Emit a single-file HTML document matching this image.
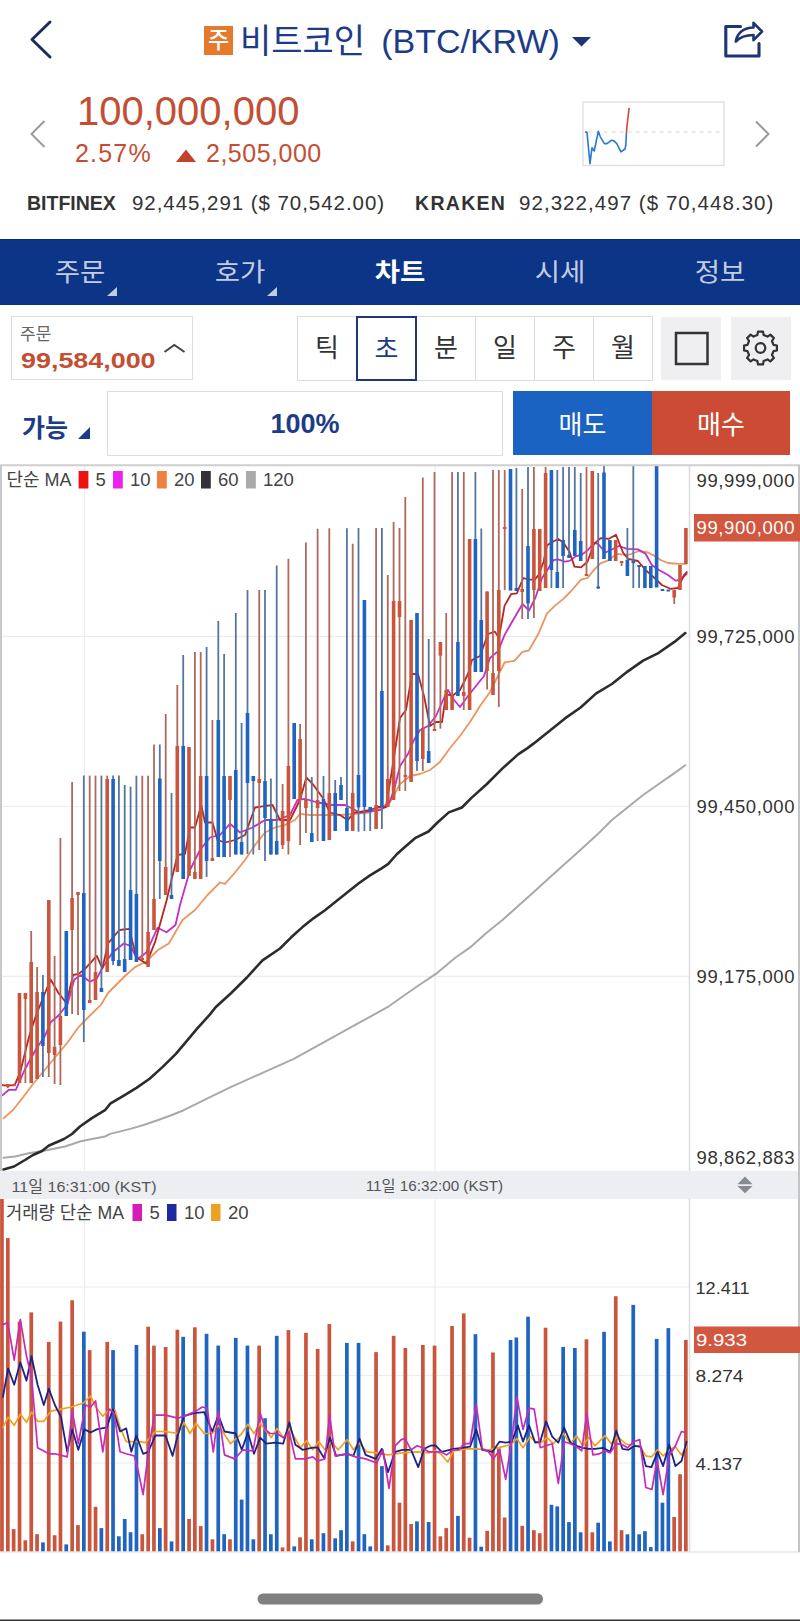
<!DOCTYPE html>
<html lang="ko"><head><meta charset="utf-8"><title>비트코인 (BTC/KRW)</title>
<style>
*{box-sizing:border-box;margin:0;padding:0}
html,body{width:800px;height:1621px;overflow:hidden;background:#fff}
body{position:relative;font-family:"Liberation Sans","Noto Sans CJK KR",sans-serif;color:#222}
.a{position:absolute;white-space:nowrap;line-height:1}
.kr{font-family:"Liberation Sans","Noto Sans CJK KR",sans-serif}
.nav{position:absolute;left:0;top:239px;width:800px;height:66px;background:#0c3588;border-top:1px solid #0a2a6a}
.tab{position:absolute;top:0;width:160px;height:66px;text-align:center;line-height:64px;font-size:25px;color:#c3cde2}
.tab.on{color:#fff;font-weight:bold}
.tab span{display:inline-block;transform:scaleX(1.1)}
.tri{position:absolute;width:0;height:0;border-left:10px solid transparent;border-bottom:9px solid #c3cde2}
.seg{position:absolute;top:316px;height:65px;width:60px;border:1px solid #dcdcdc;background:#fff;text-align:center;line-height:62px;font-size:26px;color:#333}
.ibtn{position:absolute;top:317px;width:60px;height:63px;background:#efeff1}
</style></head>
<body>
<!-- header -->
<svg class="a" style="left:0;top:0" width="800" height="240">
<polyline points="50,22 32,39.5 50,57" fill="none" stroke="#1c2c5c" stroke-width="3" stroke-linecap="round" stroke-linejoin="round"/>
<polygon points="572,37 591,37 581.5,46.5" fill="#1d3577"/>
<path d="M740.5,26.5 H725.8 V56 H759 V43.5" fill="none" stroke="#1d3577" stroke-width="3.1" stroke-linejoin="round" stroke-linecap="round"/>
<path d="M735.8,41.5 C737,33 744,27.5 753.5,27.5 L753.5,22.8 L762,31.5 L753.5,40.2 L753.5,35 C746,35 740,37 735.8,41.5 Z" fill="#fff" stroke="#1d3577" stroke-width="2.6" stroke-linejoin="round"/>
<polyline points="44.5,121 31.5,134 44.5,147" fill="none" stroke="#9a9a9a" stroke-width="2"/>
<polyline points="756,121.5 768.5,134 756,146.5" fill="none" stroke="#9a9a9a" stroke-width="2"/>
<polygon points="176,162 196,162 186,149.5" fill="#c0432e"/>
<rect x="583" y="102" width="141" height="63.5" fill="#fff" stroke="#dedede" stroke-width="1.3"/>
<line x1="588" y1="132" x2="720" y2="132" stroke="#e8c8c8" stroke-width="1.2" stroke-dasharray="3.5,4.5"/>
<polyline points="585,131.8 587,132.6 590,163.7 592,147.7 594.2,151 598.3,131.3 600.3,136.8 604.4,143.6 607,143.6 611.3,140.3 614,140.9 616.8,143.6 620.9,151.9 625,149 625.8,145 626.5,132" fill="none" stroke="#2a78d0" stroke-width="1.6" stroke-linejoin="round"/>
<polyline points="626.5,132 627,125.8 629.1,107.9" fill="none" stroke="#d24a3a" stroke-width="1.6"/>
</svg>
<div class="a" style="left:204px;top:26px;width:29px;height:29px;background:#e57a2c;color:#fff;font-size:23px;font-weight:500;text-align:center;line-height:28px">주</div>
<div class="a" id="title" style="left:240px;top:21px;font-size:34px;color:#1d3c87;line-height:40px">비트코인<span style="margin-left:16px">(BTC/KRW)</span></div>
<div class="a" id="price" style="left:77px;top:90px;font-size:40px;color:#c34e34;line-height:42px">100,000,000</div>
<div class="a" id="pct" style="left:75px;top:140px;font-size:25px;color:#c34e34;line-height:26px;letter-spacing:1.2px">2.57%</div>
<div class="a" id="chg" style="left:206px;top:140px;font-size:25px;color:#c34e34;line-height:26px;letter-spacing:0.5px">2,505,000</div>
<div class="a" style="left:27px;top:192px;font-size:19.5px;font-weight:bold;color:#333;line-height:22px">BITFINEX</div><div class="a" style="left:132px;top:192px;font-size:20.5px;color:#333;line-height:22px;letter-spacing:0.95px">92,445,291 ($ 70,542.00)</div>
<div class="a" style="left:415px;top:192px;font-size:19.5px;font-weight:bold;color:#333;line-height:22px;letter-spacing:1.3px">KRAKEN</div><div class="a" style="left:519px;top:192px;font-size:20.5px;color:#333;line-height:22px;letter-spacing:1.05px">92,322,497 ($ 70,448.30)</div>
<!-- nav -->
<div class="nav">
<div class="tab" style="left:0"><span>주문</span></div><div class="tri" style="left:107px;top:47px"></div>
<div class="tab" style="left:160px"><span>호가</span></div><div class="tri" style="left:267px;top:47px"></div>
<div class="tab on" style="left:320px"><span>차트</span></div>
<div class="tab" style="left:480px"><span>시세</span></div>
<div class="tab" style="left:640px"><span>정보</span></div>
</div>
<!-- controls -->
<div class="a" style="left:11px;top:316px;width:182px;height:64px;border:1.5px solid #dedede"></div>
<div class="a" style="left:20px;top:324.5px;font-size:17px;color:#666;line-height:20px">주문</div>
<div class="a" id="ord" style="left:21px;top:349px;font-size:22.5px;font-weight:bold;color:#c34e34;line-height:24px;transform-origin:0 0;transform:scaleX(1.195)">99,584,000</div>
<svg class="a" style="left:160px;top:338px" width="30" height="20"><polyline points="4.5,14 14.3,7 24.5,14" fill="none" stroke="#444" stroke-width="2"/></svg>
<div class="seg" style="left:297px">틱</div>
<div class="seg" style="left:356px"></div>
<div class="seg" style="left:416px">분</div>
<div class="seg" style="left:475px">일</div>
<div class="seg" style="left:534px">주</div>
<div class="seg" style="left:593px">월</div>
<div class="a" style="left:356px;top:316px;width:61px;height:65px;border:2px solid #21367a;color:#1d3c87;font-size:26px;text-align:center;line-height:62px">초</div>
<div class="ibtn" style="left:661px"></div>
<div class="ibtn" style="left:730.5px"></div>
<svg class="a" style="left:660px;top:316px" width="140" height="66">
<rect x="16" y="17" width="31.5" height="31" fill="none" stroke="#333" stroke-width="2.5"/>
<g transform="translate(100.5,32)" fill="none" stroke="#333" stroke-width="2.2" stroke-linejoin="round">
<path d="M-3.13,-13.03 L-2.47,-16.42 L2.47,-16.42 L3.13,-13.03 L7.00,-11.43 L9.86,-13.35 L13.35,-9.86 L11.43,-7.00 L13.03,-3.13 L16.42,-2.47 L16.42,2.47 L13.03,3.13 L11.43,7.00 L13.35,9.86 L9.86,13.35 L7.00,11.43 L3.13,13.03 L2.47,16.42 L-2.47,16.42 L-3.13,13.03 L-7.00,11.43 L-9.86,13.35 L-13.35,9.86 L-11.43,7.00 L-13.03,3.13 L-16.42,2.47 L-16.42,-2.47 L-13.03,-3.13 L-11.43,-7.00 L-13.35,-9.86 L-9.86,-13.35 L-7.00,-11.43 Z"/>
<circle r="4.8"/>
</g>
</svg>
<div class="a" style="left:22px;top:412.5px;font-size:25px;font-weight:bold;color:#1d3c87;line-height:30px">가능</div>
<div class="a" style="left:78px;top:427px;width:0;height:0;border-left:12px solid transparent;border-bottom:12px solid #1d3c87"></div>
<div class="a" style="left:107px;top:391px;width:396px;height:65px;border:1.5px solid #dedede;text-align:center;font-size:27px;font-weight:bold;color:#1d3c87;line-height:65px">100%</div>
<div class="a" style="left:513px;top:391px;width:139px;height:64px;background:#1a63c3;color:#fff;text-align:center;font-size:26px;line-height:68px">매도</div>
<div class="a" style="left:652px;top:391px;width:138px;height:64px;background:#cc4b35;color:#fff;text-align:center;font-size:26px;line-height:68px">매수</div>
<svg class="a" style="left:0;top:0" width="800" height="1621" viewBox="0 0 800 1621">
<defs><clipPath id="pc"><rect x="2" y="466" width="687" height="705"/></clipPath><clipPath id="vc"><rect x="0" y="1198" width="689" height="354"/></clipPath></defs>
<line x1="2" y1="636.3" x2="689" y2="636.3" stroke="#ececec" stroke-width="1.2"/>
<line x1="2" y1="806.5" x2="689" y2="806.5" stroke="#ececec" stroke-width="1.2"/>
<line x1="2" y1="976.3" x2="689" y2="976.3" stroke="#ececec" stroke-width="1.2"/>
<line x1="84.5" y1="466" x2="84.5" y2="1171" stroke="#ececec" stroke-width="1.2"/>
<line x1="84.5" y1="1198" x2="84.5" y2="1551" stroke="#ececec" stroke-width="1.2"/>
<line x1="435" y1="466" x2="435" y2="1171" stroke="#ececec" stroke-width="1.2"/>
<line x1="435" y1="1198" x2="435" y2="1551" stroke="#ececec" stroke-width="1.2"/>
<line x1="0" y1="1287" x2="689" y2="1287" stroke="#ececec" stroke-width="1.2"/>
<line x1="0" y1="1375.5" x2="689" y2="1375.5" stroke="#ececec" stroke-width="1.2"/>
<line x1="0" y1="1463" x2="689" y2="1463" stroke="#ececec" stroke-width="1.2"/>
<g clip-path="url(#pc)">
<polyline points="3.5,1157.8 15.0,1156.5 30.0,1153.0 43.0,1151.0 55.0,1148.5 65.0,1146.5 80.0,1141.5 91.9,1139.1 105.0,1136.5 110.2,1133.9 131.2,1128.6 144.4,1124.7 157.5,1120.2 170.6,1115.5 183.7,1110.2 196.9,1103.7 210.0,1097.1 231.2,1086.9 262.5,1072.8 293.8,1058.8 325.0,1041.6 356.2,1024.4 387.5,1007.2 403.0,996.2 418.8,985.3 435.2,974.4 455.6,957.5 471.2,946.6 486.9,932.5 502.5,920.0 518.1,905.9 533.8,891.9 549.4,877.8 565.0,863.8 580.6,849.7 596.2,835.6 611.9,820.0 627.5,807.5 643.1,795.0 658.8,784.0 674.4,773.1 685.3,765.3" fill="none" stroke="#a9a9a9" stroke-width="2" stroke-linejoin="round" stroke-linecap="round"/>
<polyline points="3.5,1169.5 14.0,1166.5 25.0,1160.0 33.0,1155.0 42.0,1151.0 49.0,1145.5 56.0,1142.5 64.0,1139.0 72.0,1134.0 80.0,1126.5 91.9,1118.1 105.0,1110.2 110.2,1103.7 123.4,1095.8 136.5,1087.9 149.6,1078.7 162.7,1066.9 175.9,1053.8 183.7,1044.6 196.9,1028.9 210.0,1014.4 215.6,1007.2 231.2,993.0 246.9,977.5 262.5,960.3 280.0,948.5 291.2,937.3 302.5,927.1 313.8,918.1 325.0,910.2 336.2,901.2 347.5,892.2 358.8,883.2 370.0,875.4 381.2,868.6 388.0,864.1 397.0,854.0 406.0,846.1 415.0,838.2 428.5,831.5 437.5,822.5 448.8,812.4 461.9,807.5 471.2,798.1 486.9,784.0 502.5,768.4 518.1,754.4 527.5,748.1 533.8,743.4 549.4,730.9 565.0,718.4 580.6,707.5 596.2,693.4 611.9,684.0 627.5,671.6 643.1,660.6 658.8,652.8 674.4,641.9 685.3,633.1" fill="none" stroke="#2c2c2c" stroke-width="2.6" stroke-linejoin="round" stroke-linecap="round"/>
<polyline points="3.5,1118.4 13.0,1110.0 21.9,1098.7 33.8,1083.0 45.0,1069.5 56.3,1056.0 67.5,1042.5 78.8,1026.8 90.0,1015.5 101.3,1004.3 108.0,993.0 117.0,984.0 126.0,975.0 135.0,967.1 146.3,961.5 157.5,950.3 168.8,943.5 182.5,920.0 195.0,910.0 207.5,895.0 220.0,882.5 225.0,883.8 235.0,872.5 245.0,860.0 255.0,845.0 265.0,832.5 275.0,827.5 285.0,825.0 295.0,820.0 300.0,813.8 310.0,815.0 325.0,815.0 340.0,815.0 355.0,813.8 370.0,812.5 380.0,808.0 390.0,802.0 400.0,784.0 410.0,776.0 420.0,774.0 430.0,770.0 440.0,762.0 450.0,748.0 460.0,736.0 470.0,722.0 480.0,706.0 490.0,692.0 498.1,675.5 504.6,662.5 514.4,660.9 522.5,651.9 529.0,650.3 538.7,633.2 546.9,613.7 555.0,605.6 563.1,599.1 571.2,591.0 581.0,579.6 587.5,578.0 594.0,569.9 600.5,563.4 608.6,560.1 616.8,553.8 628.0,555.0 639.0,551.0 648.0,552.5 654.0,555.6 660.5,560.0 668.0,563.0 679.0,563.8 686.0,563.8" fill="none" stroke="#eb9560" stroke-width="1.8" stroke-linejoin="round" stroke-linecap="round"/>
<polyline points="2.3,1095.4 9.0,1089.8 15.8,1089.8 24.8,1069.5 36.0,1049.3 45.0,1035.8 50.6,1022.3 58.5,1015.5 67.5,1004.3 74.3,979.5 81.0,975.0 90.0,981.8 96.8,978.4 103.5,966.0 112.5,952.5 123.8,943.5 130.5,945.8 137.3,959.3 146.3,952.5 157.5,927.8 166.5,932.3 175.5,925.0 180.0,905.0 190.0,870.0 200.0,850.0 210.0,837.5 220.0,835.0 230.0,823.8 240.0,832.5 252.5,827.5 265.0,820.0 277.5,820.0 290.0,815.0 297.5,800.0 305.0,798.8 317.5,802.5 332.5,805.0 345.0,805.0 360.0,812.5 370.0,811.0 380.0,810.0 388.0,806.0 394.0,790.0 400.0,766.0 408.0,754.0 414.0,740.0 420.0,730.0 428.0,726.0 436.0,716.0 444.0,698.0 448.0,690.0 454.0,700.0 460.0,707.0 468.0,696.0 476.0,686.0 484.0,676.0 490.0,658.0 498.1,651.1 504.6,634.9 511.1,623.5 522.5,604.0 529.0,610.5 535.5,597.5 542.0,578.0 548.5,568.2 553.4,560.1 558.2,559.3 564.7,561.7 569.6,560.9 576.1,556.1 581.0,555.2 587.5,550.4 594.0,543.1 598.0,543.8 605.5,552.5 619.0,546.0 627.0,548.8 638.0,549.4 645.5,553.8 651.8,565.0 659.0,570.0 668.0,575.0 675.5,580.6 680.0,580.0 686.8,573.8" fill="none" stroke="#c42ccc" stroke-width="1.8" stroke-linejoin="round" stroke-linecap="round"/>
<polyline points="2.3,1085.3 14.6,1085.3 20.3,1071.8 29.3,1035.8 36.0,1015.5 45.0,993.0 50.6,979.5 58.5,993.0 66.4,1003.0 73.1,975.0 78.8,973.9 85.5,968.3 96.8,955.9 102.4,968.3 108.0,943.5 119.3,930.0 129.4,928.9 136.1,957.0 146.3,963.8 155.3,941.3 166.5,900.8 177.5,855.0 185.0,853.8 190.0,827.5 195.0,827.5 201.3,805.0 205.0,822.5 212.5,822.5 217.5,840.0 225.0,842.5 235.0,840.0 245.0,835.0 255.0,807.5 262.5,806.3 272.5,805.0 280.0,820.0 290.0,820.0 300.0,800.0 306.3,777.5 312.5,783.8 322.5,797.5 330.0,812.5 340.0,815.0 347.5,820.0 355.0,812.5 360.0,812.0 370.0,810.0 378.0,807.0 386.0,807.0 392.0,770.0 400.0,718.0 406.0,710.0 412.0,674.0 418.0,674.0 424.0,696.0 430.0,726.0 436.0,722.0 442.0,722.0 446.0,694.0 452.0,696.0 460.0,690.0 468.0,674.0 472.0,660.0 480.0,656.0 488.0,634.0 494.9,631.6 498.9,638.1 504.6,605.6 511.1,594.2 516.8,593.4 523.3,578.0 529.0,579.6 534.7,579.6 538.7,574.8 543.6,561.7 546.9,545.5 551.7,542.2 558.2,539.0 563.1,542.2 569.6,552.0 574.5,566.6 581.0,567.4 587.5,561.7 594.0,543.9 600.5,538.2 609.0,538.8 616.0,534.8 623.0,552.5 628.0,558.8 638.0,561.0 645.5,570.0 654.0,577.5 661.8,585.0 670.5,588.8 678.0,588.0 684.0,575.0 686.8,572.0" fill="none" stroke="#b82620" stroke-width="1.8" stroke-linejoin="round" stroke-linecap="round"/>
</g>
<g clip-path="url(#pc)">
<rect x="0.2" y="1084.0" width="3.6" height="2.0" fill="#c9553d"/>
<line x1="7.8" y1="1084.0" x2="7.8" y2="1088.0" stroke="#ad6a5c" stroke-width="1.8"/>
<rect x="6.0" y="1084.0" width="3.6" height="3.0" fill="#c9553d"/>
<rect x="11.9" y="1084.0" width="3.6" height="2.0" fill="#c9553d"/>
<rect x="17.7" y="993.0" width="3.6" height="90.0" fill="#c9553d"/>
<line x1="25.4" y1="993.0" x2="25.4" y2="1083.0" stroke="#ad6a5c" stroke-width="1.8"/>
<rect x="23.6" y="993.0" width="3.6" height="6.0" fill="#c9553d"/>
<line x1="31.2" y1="931.0" x2="31.2" y2="1083.0" stroke="#ad6a5c" stroke-width="1.8"/>
<rect x="29.4" y="962.0" width="3.6" height="121.0" fill="#c9553d"/>
<line x1="37.1" y1="967.0" x2="37.1" y2="1079.0" stroke="#ad6a5c" stroke-width="1.8"/>
<rect x="35.3" y="992.0" width="3.6" height="87.0" fill="#c9553d"/>
<line x1="42.9" y1="975.0" x2="42.9" y2="1077.0" stroke="#55779f" stroke-width="1.8"/>
<rect x="41.1" y="992.0" width="3.6" height="54.0" fill="#1f64c0"/>
<line x1="48.8" y1="900.0" x2="48.8" y2="1077.0" stroke="#ad6a5c" stroke-width="1.8"/>
<rect x="47.0" y="900.0" width="3.6" height="153.0" fill="#c9553d"/>
<line x1="54.6" y1="956.0" x2="54.6" y2="1084.0" stroke="#ad6a5c" stroke-width="1.8"/>
<rect x="52.8" y="1047.0" width="3.6" height="8.0" fill="#c9553d"/>
<line x1="60.4" y1="838.0" x2="60.4" y2="1085.0" stroke="#ad6a5c" stroke-width="1.8"/>
<rect x="58.6" y="1016.0" width="3.6" height="29.0" fill="#c9553d"/>
<rect x="64.5" y="931.0" width="3.6" height="85.0" fill="#1f64c0"/>
<line x1="72.1" y1="782.0" x2="72.1" y2="1014.0" stroke="#ad6a5c" stroke-width="1.8"/>
<rect x="70.3" y="898.0" width="3.6" height="32.0" fill="#c9553d"/>
<line x1="78.0" y1="892.0" x2="78.0" y2="1015.0" stroke="#ad6a5c" stroke-width="1.8"/>
<rect x="76.2" y="892.0" width="3.6" height="3.0" fill="#c9553d"/>
<line x1="83.8" y1="775.6" x2="83.8" y2="1042.0" stroke="#55779f" stroke-width="1.8"/>
<rect x="82.0" y="893.0" width="3.6" height="117.0" fill="#1f64c0"/>
<line x1="89.7" y1="775.6" x2="89.7" y2="1003.0" stroke="#ad6a5c" stroke-width="1.8"/>
<rect x="87.9" y="1000.0" width="3.6" height="3.0" fill="#c9553d"/>
<line x1="95.5" y1="775.6" x2="95.5" y2="1000.0" stroke="#ad6a5c" stroke-width="1.8"/>
<rect x="93.7" y="972.0" width="3.6" height="28.0" fill="#c9553d"/>
<line x1="101.4" y1="775.6" x2="101.4" y2="992.0" stroke="#55779f" stroke-width="1.8"/>
<rect x="99.6" y="988.0" width="3.6" height="4.0" fill="#1f64c0"/>
<line x1="107.2" y1="775.6" x2="107.2" y2="972.0" stroke="#ad6a5c" stroke-width="1.8"/>
<rect x="105.4" y="779.0" width="3.6" height="193.0" fill="#c9553d"/>
<line x1="113.1" y1="775.6" x2="113.1" y2="965.0" stroke="#55779f" stroke-width="1.8"/>
<rect x="111.3" y="779.0" width="3.6" height="182.0" fill="#1f64c0"/>
<line x1="118.9" y1="775.6" x2="118.9" y2="966.0" stroke="#55779f" stroke-width="1.8"/>
<rect x="117.1" y="960.0" width="3.6" height="6.0" fill="#1f64c0"/>
<line x1="124.7" y1="785.0" x2="124.7" y2="972.0" stroke="#55779f" stroke-width="1.8"/>
<rect x="122.9" y="959.0" width="3.6" height="13.0" fill="#1f64c0"/>
<line x1="130.6" y1="786.6" x2="130.6" y2="960.0" stroke="#55779f" stroke-width="1.8"/>
<rect x="128.8" y="890.0" width="3.6" height="70.0" fill="#1f64c0"/>
<line x1="136.4" y1="775.7" x2="136.4" y2="962.0" stroke="#55779f" stroke-width="1.8"/>
<rect x="134.6" y="894.0" width="3.6" height="68.0" fill="#1f64c0"/>
<line x1="142.3" y1="775.7" x2="142.3" y2="960.0" stroke="#ad6a5c" stroke-width="1.8"/>
<rect x="140.5" y="958.0" width="3.6" height="2.0" fill="#c9553d"/>
<line x1="148.1" y1="775.7" x2="148.1" y2="967.0" stroke="#ad6a5c" stroke-width="1.8"/>
<rect x="146.3" y="932.0" width="3.6" height="35.0" fill="#c9553d"/>
<line x1="154.0" y1="744.5" x2="154.0" y2="930.0" stroke="#ad6a5c" stroke-width="1.8"/>
<rect x="152.2" y="899.0" width="3.6" height="31.0" fill="#c9553d"/>
<line x1="159.8" y1="744.5" x2="159.8" y2="899.0" stroke="#55779f" stroke-width="1.8"/>
<rect x="158.0" y="778.5" width="3.6" height="82.5" fill="#1f64c0"/>
<line x1="165.7" y1="714.0" x2="165.7" y2="895.0" stroke="#ad6a5c" stroke-width="1.8"/>
<rect x="163.9" y="867.0" width="3.6" height="28.0" fill="#c9553d"/>
<line x1="171.5" y1="793.0" x2="171.5" y2="899.0" stroke="#55779f" stroke-width="1.8"/>
<rect x="169.7" y="895.0" width="3.6" height="4.0" fill="#1f64c0"/>
<line x1="177.3" y1="685.0" x2="177.3" y2="872.0" stroke="#ad6a5c" stroke-width="1.8"/>
<rect x="175.5" y="746.0" width="3.6" height="126.0" fill="#c9553d"/>
<line x1="183.2" y1="655.0" x2="183.2" y2="879.0" stroke="#55779f" stroke-width="1.8"/>
<rect x="181.4" y="746.0" width="3.6" height="133.0" fill="#1f64c0"/>
<rect x="187.2" y="747.0" width="3.6" height="129.0" fill="#c9553d"/>
<line x1="194.9" y1="652.0" x2="194.9" y2="879.0" stroke="#ad6a5c" stroke-width="1.8"/>
<rect x="193.1" y="872.0" width="3.6" height="7.0" fill="#c9553d"/>
<line x1="200.7" y1="652.0" x2="200.7" y2="879.0" stroke="#ad6a5c" stroke-width="1.8"/>
<rect x="198.9" y="776.0" width="3.6" height="103.0" fill="#c9553d"/>
<line x1="206.6" y1="647.0" x2="206.6" y2="877.0" stroke="#55779f" stroke-width="1.8"/>
<rect x="204.8" y="776.0" width="3.6" height="85.0" fill="#1f64c0"/>
<line x1="212.4" y1="720.0" x2="212.4" y2="861.0" stroke="#ad6a5c" stroke-width="1.8"/>
<rect x="210.6" y="858.0" width="3.6" height="3.0" fill="#c9553d"/>
<line x1="218.3" y1="621.0" x2="218.3" y2="857.0" stroke="#55779f" stroke-width="1.8"/>
<rect x="216.5" y="720.0" width="3.6" height="137.0" fill="#1f64c0"/>
<line x1="224.1" y1="654.0" x2="224.1" y2="857.0" stroke="#55779f" stroke-width="1.8"/>
<rect x="222.3" y="776.0" width="3.6" height="81.0" fill="#1f64c0"/>
<line x1="230.0" y1="776.0" x2="230.0" y2="857.0" stroke="#ad6a5c" stroke-width="1.8"/>
<rect x="228.2" y="776.0" width="3.6" height="24.0" fill="#c9553d"/>
<line x1="235.8" y1="613.0" x2="235.8" y2="854.5" stroke="#55779f" stroke-width="1.8"/>
<rect x="234.0" y="770.0" width="3.6" height="84.5" fill="#1f64c0"/>
<line x1="241.6" y1="723.0" x2="241.6" y2="854.5" stroke="#55779f" stroke-width="1.8"/>
<rect x="239.8" y="842.0" width="3.6" height="12.5" fill="#1f64c0"/>
<line x1="247.5" y1="590.0" x2="247.5" y2="854.0" stroke="#55779f" stroke-width="1.8"/>
<rect x="245.7" y="713.0" width="3.6" height="70.0" fill="#1f64c0"/>
<line x1="253.3" y1="776.0" x2="253.3" y2="854.5" stroke="#55779f" stroke-width="1.8"/>
<rect x="251.5" y="776.0" width="3.6" height="5.0" fill="#1f64c0"/>
<line x1="259.2" y1="590.0" x2="259.2" y2="850.0" stroke="#ad6a5c" stroke-width="1.8"/>
<rect x="257.4" y="779.0" width="3.6" height="4.0" fill="#c9553d"/>
<line x1="265.0" y1="590.0" x2="265.0" y2="861.0" stroke="#55779f" stroke-width="1.8"/>
<rect x="263.2" y="781.0" width="3.6" height="37.0" fill="#1f64c0"/>
<line x1="270.9" y1="778.5" x2="270.9" y2="854.5" stroke="#55779f" stroke-width="1.8"/>
<rect x="269.1" y="819.0" width="3.6" height="35.5" fill="#1f64c0"/>
<line x1="276.7" y1="565.5" x2="276.7" y2="854.5" stroke="#55779f" stroke-width="1.8"/>
<rect x="274.9" y="841.0" width="3.6" height="13.5" fill="#1f64c0"/>
<line x1="282.6" y1="784.0" x2="282.6" y2="849.0" stroke="#ad6a5c" stroke-width="1.8"/>
<rect x="280.8" y="811.0" width="3.6" height="34.0" fill="#c9553d"/>
<line x1="288.4" y1="558.7" x2="288.4" y2="854.5" stroke="#ad6a5c" stroke-width="1.8"/>
<rect x="286.6" y="766.0" width="3.6" height="75.0" fill="#c9553d"/>
<rect x="292.4" y="723.0" width="3.6" height="76.0" fill="#1f64c0"/>
<line x1="300.1" y1="724.0" x2="300.1" y2="845.0" stroke="#ad6a5c" stroke-width="1.8"/>
<rect x="298.3" y="739.0" width="3.6" height="61.0" fill="#c9553d"/>
<line x1="305.9" y1="542.4" x2="305.9" y2="833.0" stroke="#ad6a5c" stroke-width="1.8"/>
<rect x="304.1" y="800.0" width="3.6" height="8.0" fill="#c9553d"/>
<line x1="311.8" y1="777.0" x2="311.8" y2="842.0" stroke="#55779f" stroke-width="1.8"/>
<rect x="310.0" y="833.0" width="3.6" height="9.0" fill="#1f64c0"/>
<line x1="317.6" y1="528.8" x2="317.6" y2="841.0" stroke="#ad6a5c" stroke-width="1.8"/>
<rect x="315.8" y="800.0" width="3.6" height="8.0" fill="#c9553d"/>
<line x1="323.5" y1="776.0" x2="323.5" y2="841.0" stroke="#55779f" stroke-width="1.8"/>
<rect x="321.7" y="799.0" width="3.6" height="42.0" fill="#1f64c0"/>
<line x1="329.3" y1="528.3" x2="329.3" y2="840.0" stroke="#ad6a5c" stroke-width="1.8"/>
<rect x="327.5" y="793.0" width="3.6" height="47.0" fill="#c9553d"/>
<line x1="335.2" y1="780.0" x2="335.2" y2="831.0" stroke="#55779f" stroke-width="1.8"/>
<rect x="333.4" y="793.0" width="3.6" height="38.0" fill="#1f64c0"/>
<line x1="341.0" y1="777.0" x2="341.0" y2="800.0" stroke="#55779f" stroke-width="1.8"/>
<rect x="339.2" y="785.0" width="3.6" height="15.0" fill="#1f64c0"/>
<line x1="346.9" y1="528.3" x2="346.9" y2="831.0" stroke="#55779f" stroke-width="1.8"/>
<rect x="345.1" y="808.0" width="3.6" height="23.0" fill="#1f64c0"/>
<line x1="352.7" y1="543.8" x2="352.7" y2="831.0" stroke="#ad6a5c" stroke-width="1.8"/>
<rect x="350.9" y="793.0" width="3.6" height="38.0" fill="#c9553d"/>
<line x1="358.5" y1="528.0" x2="358.5" y2="831.8" stroke="#55779f" stroke-width="1.8"/>
<rect x="356.7" y="775.0" width="3.6" height="32.4" fill="#1f64c0"/>
<line x1="364.4" y1="600.0" x2="364.4" y2="831.0" stroke="#55779f" stroke-width="1.8"/>
<rect x="362.6" y="600.0" width="3.6" height="207.0" fill="#1f64c0"/>
<line x1="370.2" y1="807.0" x2="370.2" y2="831.0" stroke="#55779f" stroke-width="1.8"/>
<rect x="368.4" y="807.0" width="3.6" height="5.0" fill="#1f64c0"/>
<line x1="376.1" y1="528.0" x2="376.1" y2="829.0" stroke="#ad6a5c" stroke-width="1.8"/>
<rect x="374.3" y="805.0" width="3.6" height="24.0" fill="#c9553d"/>
<line x1="381.9" y1="528.0" x2="381.9" y2="829.0" stroke="#55779f" stroke-width="1.8"/>
<rect x="380.1" y="691.0" width="3.6" height="116.0" fill="#1f64c0"/>
<line x1="387.8" y1="575.0" x2="387.8" y2="807.0" stroke="#ad6a5c" stroke-width="1.8"/>
<rect x="386.0" y="779.0" width="3.6" height="28.0" fill="#c9553d"/>
<line x1="393.6" y1="522.0" x2="393.6" y2="800.0" stroke="#ad6a5c" stroke-width="1.8"/>
<rect x="391.8" y="601.0" width="3.6" height="199.0" fill="#c9553d"/>
<line x1="399.5" y1="528.0" x2="399.5" y2="791.0" stroke="#ad6a5c" stroke-width="1.8"/>
<rect x="397.7" y="601.0" width="3.6" height="16.0" fill="#c9553d"/>
<line x1="405.3" y1="497.0" x2="405.3" y2="791.0" stroke="#ad6a5c" stroke-width="1.8"/>
<rect x="403.5" y="775.0" width="3.6" height="2.0" fill="#c9553d"/>
<rect x="409.3" y="620.0" width="3.6" height="162.0" fill="#c9553d"/>
<line x1="417.0" y1="613.0" x2="417.0" y2="771.0" stroke="#55779f" stroke-width="1.8"/>
<rect x="415.2" y="613.0" width="3.6" height="148.0" fill="#1f64c0"/>
<line x1="422.8" y1="477.6" x2="422.8" y2="771.0" stroke="#ad6a5c" stroke-width="1.8"/>
<rect x="421.0" y="728.0" width="3.6" height="31.0" fill="#c9553d"/>
<line x1="428.7" y1="639.0" x2="428.7" y2="763.0" stroke="#55779f" stroke-width="1.8"/>
<rect x="426.9" y="751.0" width="3.6" height="12.0" fill="#1f64c0"/>
<line x1="434.5" y1="472.0" x2="434.5" y2="731.0" stroke="#ad6a5c" stroke-width="1.8"/>
<rect x="432.7" y="729.0" width="3.6" height="2.0" fill="#c9553d"/>
<line x1="440.4" y1="642.0" x2="440.4" y2="728.7" stroke="#ad6a5c" stroke-width="1.8"/>
<rect x="438.6" y="642.0" width="3.6" height="13.6" fill="#c9553d"/>
<line x1="446.2" y1="613.0" x2="446.2" y2="710.0" stroke="#ad6a5c" stroke-width="1.8"/>
<rect x="444.4" y="690.0" width="3.6" height="20.0" fill="#c9553d"/>
<line x1="452.1" y1="472.0" x2="452.1" y2="710.0" stroke="#ad6a5c" stroke-width="1.8"/>
<rect x="450.3" y="696.0" width="3.6" height="14.0" fill="#c9553d"/>
<line x1="457.9" y1="472.0" x2="457.9" y2="696.0" stroke="#55779f" stroke-width="1.8"/>
<rect x="456.1" y="642.0" width="3.6" height="54.0" fill="#1f64c0"/>
<line x1="463.8" y1="472.0" x2="463.8" y2="710.0" stroke="#ad6a5c" stroke-width="1.8"/>
<rect x="462.0" y="692.0" width="3.6" height="4.0" fill="#c9553d"/>
<rect x="467.8" y="539.0" width="3.6" height="171.0" fill="#c9553d"/>
<line x1="475.4" y1="472.0" x2="475.4" y2="672.0" stroke="#55779f" stroke-width="1.8"/>
<rect x="473.6" y="539.0" width="3.6" height="133.0" fill="#1f64c0"/>
<line x1="481.3" y1="528.5" x2="481.3" y2="672.0" stroke="#55779f" stroke-width="1.8"/>
<rect x="479.5" y="620.0" width="3.6" height="52.0" fill="#1f64c0"/>
<line x1="487.1" y1="591.5" x2="487.1" y2="689.6" stroke="#ad6a5c" stroke-width="1.8"/>
<rect x="485.3" y="591.5" width="3.6" height="79.5" fill="#c9553d"/>
<line x1="493.0" y1="470.0" x2="493.0" y2="695.0" stroke="#ad6a5c" stroke-width="1.8"/>
<rect x="491.2" y="673.0" width="3.6" height="22.0" fill="#c9553d"/>
<line x1="498.8" y1="470.0" x2="498.8" y2="707.0" stroke="#ad6a5c" stroke-width="1.8"/>
<rect x="497.0" y="590.0" width="3.6" height="81.0" fill="#c9553d"/>
<line x1="504.7" y1="470.0" x2="504.7" y2="590.0" stroke="#ad6a5c" stroke-width="1.8"/>
<rect x="502.9" y="527.0" width="3.6" height="2.0" fill="#c9553d"/>
<rect x="508.7" y="469.0" width="3.6" height="121.6" fill="#1f64c0"/>
<line x1="516.4" y1="468.0" x2="516.4" y2="591.0" stroke="#55779f" stroke-width="1.8"/>
<rect x="514.6" y="588.0" width="3.6" height="3.0" fill="#1f64c0"/>
<line x1="522.2" y1="489.0" x2="522.2" y2="619.0" stroke="#ad6a5c" stroke-width="1.8"/>
<rect x="520.4" y="589.0" width="3.6" height="3.0" fill="#c9553d"/>
<line x1="528.0" y1="467.0" x2="528.0" y2="619.0" stroke="#55779f" stroke-width="1.8"/>
<rect x="526.2" y="546.0" width="3.6" height="57.5" fill="#1f64c0"/>
<line x1="533.9" y1="467.0" x2="533.9" y2="618.0" stroke="#ad6a5c" stroke-width="1.8"/>
<rect x="532.1" y="529.0" width="3.6" height="61.0" fill="#c9553d"/>
<rect x="537.9" y="529.0" width="3.6" height="62.0" fill="#c9553d"/>
<line x1="545.6" y1="467.0" x2="545.6" y2="588.0" stroke="#ad6a5c" stroke-width="1.8"/>
<rect x="543.8" y="473.0" width="3.6" height="115.0" fill="#c9553d"/>
<line x1="551.4" y1="470.0" x2="551.4" y2="588.0" stroke="#55779f" stroke-width="1.8"/>
<rect x="549.6" y="470.0" width="3.6" height="100.0" fill="#1f64c0"/>
<line x1="557.3" y1="470.0" x2="557.3" y2="588.0" stroke="#55779f" stroke-width="1.8"/>
<rect x="555.5" y="572.0" width="3.6" height="16.0" fill="#1f64c0"/>
<line x1="563.1" y1="467.0" x2="563.1" y2="588.0" stroke="#55779f" stroke-width="1.8"/>
<rect x="561.3" y="540.0" width="3.6" height="16.0" fill="#1f64c0"/>
<line x1="569.0" y1="467.0" x2="569.0" y2="558.0" stroke="#55779f" stroke-width="1.8"/>
<rect x="567.2" y="555.0" width="3.6" height="3.0" fill="#1f64c0"/>
<line x1="574.8" y1="467.0" x2="574.8" y2="556.0" stroke="#55779f" stroke-width="1.8"/>
<rect x="573.0" y="530.0" width="3.6" height="26.0" fill="#1f64c0"/>
<line x1="580.7" y1="473.0" x2="580.7" y2="561.0" stroke="#55779f" stroke-width="1.8"/>
<rect x="578.9" y="541.0" width="3.6" height="20.0" fill="#1f64c0"/>
<line x1="586.5" y1="467.0" x2="586.5" y2="576.0" stroke="#ad6a5c" stroke-width="1.8"/>
<rect x="584.7" y="574.0" width="3.6" height="2.0" fill="#c9553d"/>
<rect x="590.5" y="471.0" width="3.6" height="88.0" fill="#c9553d"/>
<line x1="598.2" y1="473.0" x2="598.2" y2="588.8" stroke="#55779f" stroke-width="1.8"/>
<rect x="596.4" y="586.5" width="3.6" height="2.0" fill="#1f64c0"/>
<line x1="604.0" y1="466.0" x2="604.0" y2="559.0" stroke="#55779f" stroke-width="1.8"/>
<rect x="602.2" y="472.5" width="3.6" height="86.5" fill="#1f64c0"/>
<rect x="608.1" y="540.0" width="3.6" height="21.0" fill="#1f64c0"/>
<rect x="613.9" y="540.0" width="3.6" height="21.0" fill="#c9553d"/>
<line x1="621.6" y1="561.0" x2="621.6" y2="566.0" stroke="#ad6a5c" stroke-width="1.8"/>
<rect x="619.8" y="561.0" width="3.6" height="2.0" fill="#c9553d"/>
<line x1="627.4" y1="528.0" x2="627.4" y2="576.0" stroke="#55779f" stroke-width="1.8"/>
<rect x="625.6" y="560.0" width="3.6" height="16.0" fill="#1f64c0"/>
<line x1="633.3" y1="466.0" x2="633.3" y2="588.0" stroke="#55779f" stroke-width="1.8"/>
<rect x="631.5" y="561.0" width="3.6" height="2.0" fill="#1f64c0"/>
<line x1="639.1" y1="565.0" x2="639.1" y2="588.0" stroke="#55779f" stroke-width="1.8"/>
<rect x="637.3" y="565.0" width="3.6" height="2.0" fill="#1f64c0"/>
<rect x="643.1" y="566.0" width="3.6" height="22.0" fill="#1f64c0"/>
<rect x="649.0" y="566.0" width="3.6" height="22.0" fill="#1f64c0"/>
<rect x="654.8" y="466.0" width="3.6" height="121.5" fill="#1f64c0"/>
<rect x="660.7" y="589.0" width="3.6" height="2.0" fill="#1f64c0"/>
<rect x="666.5" y="589.5" width="3.6" height="2.0" fill="#1f64c0"/>
<line x1="674.2" y1="590.0" x2="674.2" y2="604.0" stroke="#ad6a5c" stroke-width="1.8"/>
<rect x="672.4" y="590.0" width="3.6" height="7.5" fill="#c9553d"/>
<rect x="678.2" y="565.0" width="3.6" height="25.0" fill="#c9553d"/>
<rect x="684.1" y="528.0" width="3.6" height="36.0" fill="#c9553d"/>
</g>
<g clip-path="url(#vc)">
<rect x="0.1" y="1199.0" width="3.7" height="352.5" fill="#c9553d"/>
<rect x="6.0" y="1238.1" width="3.7" height="313.4" fill="#c9553d"/>
<rect x="11.8" y="1529.1" width="3.7" height="22.4" fill="#c9553d"/>
<rect x="17.7" y="1321.6" width="3.7" height="229.9" fill="#c9553d"/>
<rect x="23.5" y="1540.3" width="3.7" height="11.2" fill="#c9553d"/>
<rect x="29.4" y="1312.4" width="3.7" height="239.1" fill="#c9553d"/>
<rect x="35.2" y="1534.2" width="3.7" height="17.3" fill="#c9553d"/>
<rect x="41.1" y="1542.4" width="3.7" height="9.1" fill="#1f64c0"/>
<rect x="46.9" y="1341.9" width="3.7" height="209.6" fill="#c9553d"/>
<rect x="52.8" y="1535.2" width="3.7" height="16.3" fill="#c9553d"/>
<rect x="58.6" y="1321.6" width="3.7" height="229.9" fill="#c9553d"/>
<rect x="64.4" y="1544.4" width="3.7" height="7.1" fill="#1f64c0"/>
<rect x="70.3" y="1300.2" width="3.7" height="251.3" fill="#c9553d"/>
<rect x="76.1" y="1525.1" width="3.7" height="26.4" fill="#c9553d"/>
<rect x="82.0" y="1331.7" width="3.7" height="219.8" fill="#1f64c0"/>
<rect x="87.8" y="1350.1" width="3.7" height="201.4" fill="#c9553d"/>
<rect x="93.7" y="1506.8" width="3.7" height="44.7" fill="#c9553d"/>
<rect x="99.5" y="1528.1" width="3.7" height="23.4" fill="#1f64c0"/>
<rect x="105.4" y="1341.9" width="3.7" height="209.6" fill="#c9553d"/>
<rect x="111.2" y="1350.1" width="3.7" height="201.4" fill="#1f64c0"/>
<rect x="117.0" y="1536.3" width="3.7" height="15.2" fill="#1f64c0"/>
<rect x="122.9" y="1519.0" width="3.7" height="32.5" fill="#1f64c0"/>
<rect x="128.7" y="1532.2" width="3.7" height="19.3" fill="#1f64c0"/>
<rect x="134.6" y="1345.0" width="3.7" height="206.5" fill="#1f64c0"/>
<rect x="140.4" y="1534.2" width="3.7" height="17.3" fill="#c9553d"/>
<rect x="146.3" y="1326.7" width="3.7" height="224.8" fill="#c9553d"/>
<rect x="152.1" y="1345.6" width="3.7" height="205.9" fill="#c9553d"/>
<rect x="158.0" y="1528.1" width="3.7" height="23.4" fill="#1f64c0"/>
<rect x="163.8" y="1347.0" width="3.7" height="204.5" fill="#c9553d"/>
<rect x="169.7" y="1541.4" width="3.7" height="10.1" fill="#1f64c0"/>
<rect x="175.5" y="1329.7" width="3.7" height="221.8" fill="#c9553d"/>
<rect x="181.3" y="1336.8" width="3.7" height="214.7" fill="#1f64c0"/>
<rect x="187.2" y="1519.0" width="3.7" height="32.5" fill="#c9553d"/>
<rect x="193.0" y="1327.3" width="3.7" height="224.2" fill="#c9553d"/>
<rect x="198.9" y="1526.1" width="3.7" height="25.4" fill="#c9553d"/>
<rect x="204.7" y="1333.8" width="3.7" height="217.7" fill="#1f64c0"/>
<rect x="210.6" y="1539.3" width="3.7" height="12.2" fill="#c9553d"/>
<rect x="216.4" y="1345.6" width="3.7" height="205.9" fill="#1f64c0"/>
<rect x="222.3" y="1534.2" width="3.7" height="17.3" fill="#1f64c0"/>
<rect x="228.1" y="1539.3" width="3.7" height="12.2" fill="#c9553d"/>
<rect x="233.9" y="1337.9" width="3.7" height="213.6" fill="#1f64c0"/>
<rect x="239.8" y="1499.6" width="3.7" height="51.9" fill="#1f64c0"/>
<rect x="245.6" y="1345.6" width="3.7" height="205.9" fill="#1f64c0"/>
<rect x="251.5" y="1539.3" width="3.7" height="12.2" fill="#1f64c0"/>
<rect x="257.3" y="1345.6" width="3.7" height="205.9" fill="#c9553d"/>
<rect x="263.2" y="1418.2" width="3.7" height="133.3" fill="#1f64c0"/>
<rect x="269.0" y="1534.2" width="3.7" height="17.3" fill="#1f64c0"/>
<rect x="274.9" y="1335.8" width="3.7" height="215.7" fill="#1f64c0"/>
<rect x="280.7" y="1547.5" width="3.7" height="4.0" fill="#c9553d"/>
<rect x="286.6" y="1330.1" width="3.7" height="221.4" fill="#c9553d"/>
<rect x="292.4" y="1546.4" width="3.7" height="5.1" fill="#1f64c0"/>
<rect x="298.2" y="1537.3" width="3.7" height="14.2" fill="#c9553d"/>
<rect x="304.1" y="1332.8" width="3.7" height="218.7" fill="#c9553d"/>
<rect x="309.9" y="1539.3" width="3.7" height="12.2" fill="#1f64c0"/>
<rect x="315.8" y="1349.0" width="3.7" height="202.5" fill="#c9553d"/>
<rect x="321.6" y="1533.2" width="3.7" height="18.3" fill="#1f64c0"/>
<rect x="327.5" y="1324.0" width="3.7" height="227.5" fill="#c9553d"/>
<rect x="333.3" y="1538.3" width="3.7" height="13.2" fill="#1f64c0"/>
<rect x="339.2" y="1530.2" width="3.7" height="21.3" fill="#1f64c0"/>
<rect x="345.0" y="1342.9" width="3.7" height="208.6" fill="#1f64c0"/>
<rect x="350.8" y="1541.4" width="3.7" height="10.1" fill="#c9553d"/>
<rect x="356.7" y="1342.9" width="3.7" height="208.6" fill="#1f64c0"/>
<rect x="362.5" y="1534.2" width="3.7" height="17.3" fill="#1f64c0"/>
<rect x="368.4" y="1546.4" width="3.7" height="5.1" fill="#1f64c0"/>
<rect x="374.2" y="1352.1" width="3.7" height="199.4" fill="#c9553d"/>
<rect x="380.1" y="1466.1" width="3.7" height="85.4" fill="#1f64c0"/>
<rect x="385.9" y="1545.4" width="3.7" height="6.1" fill="#c9553d"/>
<rect x="391.8" y="1335.8" width="3.7" height="215.7" fill="#c9553d"/>
<rect x="397.6" y="1502.7" width="3.7" height="48.8" fill="#c9553d"/>
<rect x="403.5" y="1348.0" width="3.7" height="203.5" fill="#c9553d"/>
<rect x="409.3" y="1524.0" width="3.7" height="27.5" fill="#c9553d"/>
<rect x="415.1" y="1521.4" width="3.7" height="30.1" fill="#1f64c0"/>
<rect x="421.0" y="1345.0" width="3.7" height="206.5" fill="#c9553d"/>
<rect x="426.8" y="1522.0" width="3.7" height="29.5" fill="#1f64c0"/>
<rect x="432.7" y="1345.6" width="3.7" height="205.9" fill="#c9553d"/>
<rect x="438.5" y="1536.3" width="3.7" height="15.2" fill="#c9553d"/>
<rect x="444.4" y="1528.1" width="3.7" height="23.4" fill="#c9553d"/>
<rect x="450.2" y="1326.0" width="3.7" height="225.5" fill="#c9553d"/>
<rect x="456.1" y="1515.9" width="3.7" height="35.6" fill="#1f64c0"/>
<rect x="461.9" y="1313.4" width="3.7" height="238.1" fill="#c9553d"/>
<rect x="467.7" y="1537.7" width="3.7" height="13.8" fill="#c9553d"/>
<rect x="473.6" y="1334.2" width="3.7" height="217.3" fill="#1f64c0"/>
<rect x="479.4" y="1546.7" width="3.7" height="4.8" fill="#1f64c0"/>
<rect x="485.3" y="1530.8" width="3.7" height="20.7" fill="#c9553d"/>
<rect x="491.1" y="1352.5" width="3.7" height="199.0" fill="#c9553d"/>
<rect x="497.0" y="1448.3" width="3.7" height="103.2" fill="#c9553d"/>
<rect x="502.8" y="1517.5" width="3.7" height="34.0" fill="#c9553d"/>
<rect x="508.7" y="1340.0" width="3.7" height="211.5" fill="#1f64c0"/>
<rect x="514.5" y="1337.5" width="3.7" height="214.0" fill="#1f64c0"/>
<rect x="520.4" y="1525.8" width="3.7" height="25.7" fill="#c9553d"/>
<rect x="526.2" y="1316.7" width="3.7" height="234.8" fill="#1f64c0"/>
<rect x="532.0" y="1530.2" width="3.7" height="21.3" fill="#c9553d"/>
<rect x="537.9" y="1533.2" width="3.7" height="18.3" fill="#c9553d"/>
<rect x="543.7" y="1327.7" width="3.7" height="223.8" fill="#c9553d"/>
<rect x="549.6" y="1504.8" width="3.7" height="46.7" fill="#1f64c0"/>
<rect x="555.4" y="1506.4" width="3.7" height="45.1" fill="#1f64c0"/>
<rect x="561.3" y="1347.0" width="3.7" height="204.5" fill="#1f64c0"/>
<rect x="567.1" y="1522.1" width="3.7" height="29.4" fill="#1f64c0"/>
<rect x="573.0" y="1348.0" width="3.7" height="203.5" fill="#1f64c0"/>
<rect x="578.8" y="1532.3" width="3.7" height="19.2" fill="#1f64c0"/>
<rect x="584.6" y="1339.3" width="3.7" height="212.2" fill="#c9553d"/>
<rect x="590.5" y="1532.3" width="3.7" height="19.2" fill="#c9553d"/>
<rect x="596.3" y="1522.7" width="3.7" height="28.8" fill="#1f64c0"/>
<rect x="602.2" y="1331.8" width="3.7" height="219.7" fill="#1f64c0"/>
<rect x="608.0" y="1541.4" width="3.7" height="10.1" fill="#1f64c0"/>
<rect x="613.9" y="1296.2" width="3.7" height="255.3" fill="#c9553d"/>
<rect x="619.7" y="1530.2" width="3.7" height="21.3" fill="#c9553d"/>
<rect x="625.6" y="1534.3" width="3.7" height="17.2" fill="#1f64c0"/>
<rect x="631.4" y="1304.9" width="3.7" height="246.6" fill="#1f64c0"/>
<rect x="637.3" y="1534.3" width="3.7" height="17.2" fill="#1f64c0"/>
<rect x="643.1" y="1531.2" width="3.7" height="20.3" fill="#1f64c0"/>
<rect x="648.9" y="1547.1" width="3.7" height="4.4" fill="#1f64c0"/>
<rect x="654.8" y="1338.9" width="3.7" height="212.6" fill="#1f64c0"/>
<rect x="660.6" y="1502.7" width="3.7" height="48.8" fill="#1f64c0"/>
<rect x="666.5" y="1328.1" width="3.7" height="223.4" fill="#1f64c0"/>
<rect x="672.3" y="1517.0" width="3.7" height="34.5" fill="#c9553d"/>
<rect x="678.2" y="1474.2" width="3.7" height="77.3" fill="#c9553d"/>
<rect x="684.0" y="1339.9" width="3.7" height="211.6" fill="#c9553d"/>
<polyline points="3.0,1427.4 8.1,1417.2 14.2,1425.4 20.3,1414.2 26.5,1422.3 31.5,1412.1 37.6,1421.3 43.8,1421.3 50.9,1411.1 61.0,1409.1 71.2,1407.0 83.4,1403.0 90.6,1395.9 95.6,1407.0 102.8,1416.2 109.9,1409.1 115.0,1410.1 120.1,1427.4 126.2,1441.6 140.0,1441.6 145.2,1442.7 155.4,1431.5 165.5,1431.5 177.7,1433.5 183.8,1422.3 190.0,1433.5 196.0,1423.3 204.2,1433.5 212.3,1433.5 218.4,1425.4 230.6,1443.7 241.8,1433.5 247.9,1424.3 254.0,1433.5 260.2,1423.3 266.3,1431.5 271.3,1437.6 277.1,1428.4 283.2,1437.6 289.3,1428.4 300.5,1447.7 306.6,1440.6 312.7,1449.8 318.8,1441.6 324.9,1449.8 331.0,1441.6 338.2,1449.8 347.3,1439.6 353.4,1449.8 359.5,1442.7 366.7,1451.8 375.8,1452.8 388.0,1454.9 402.3,1452.8 417.2,1451.8 429.4,1452.8 434.5,1450.8 440.6,1453.8 447.7,1462.0 453.8,1450.8 466.1,1448.8 476.2,1448.8 488.4,1449.8 498.6,1447.7 510.8,1444.7 516.9,1438.6 523.0,1447.7 530.2,1436.6 535.2,1441.6 540.0,1443.7 547.1,1437.6 553.2,1443.7 563.4,1433.5 570.5,1443.7 576.6,1435.6 582.7,1445.8 588.8,1437.6 595.0,1445.8 605.1,1435.6 611.2,1443.7 617.3,1436.6 625.5,1443.7 633.6,1445.8 639.7,1445.8 645.8,1455.9 651.5,1456.9 657.6,1449.8 663.1,1455.9 669.2,1449.8 675.4,1446.8 681.5,1454.9 686.5,1446.8" fill="none" stroke="#f0a020" stroke-width="1.7" stroke-linejoin="round" stroke-linecap="round"/>
<polyline points="3.0,1396.9 8.1,1368.4 14.2,1384.7 20.3,1362.3 26.5,1380.6 31.5,1356.2 37.6,1384.7 43.8,1405.0 48.8,1388.7 54.9,1405.0 61.0,1417.2 67.2,1451.8 72.2,1429.4 78.3,1449.8 84.5,1429.4 90.6,1432.5 96.7,1429.4 106.8,1427.4 112.9,1409.1 120.1,1431.5 126.2,1428.4 131.3,1451.8 136.3,1435.5 143.1,1453.8 148.2,1451.8 155.4,1435.5 165.5,1435.5 172.6,1455.9 177.7,1435.5 183.8,1416.2 194.0,1413.1 204.2,1412.1 212.3,1431.5 218.4,1415.2 224.5,1431.5 235.7,1433.5 241.8,1449.8 247.9,1432.5 254.0,1453.8 260.2,1437.6 266.3,1443.7 275.0,1442.7 283.2,1443.7 289.3,1422.3 295.4,1444.7 302.6,1449.8 312.7,1447.7 317.8,1447.7 323.9,1457.9 330.0,1437.6 336.1,1455.9 347.3,1453.8 353.4,1455.9 359.5,1438.6 365.6,1454.9 375.8,1458.9 381.9,1448.8 388.0,1472.2 395.2,1451.8 402.3,1449.8 411.1,1449.8 418.2,1467.1 424.3,1448.8 430.4,1445.7 435.5,1445.3 441.6,1451.8 453.8,1448.8 464.0,1447.7 470.1,1446.7 476.2,1429.4 482.3,1449.8 492.5,1451.8 499.6,1441.6 505.7,1442.7 511.8,1441.6 517.9,1425.4 523.0,1441.6 529.1,1425.4 535.2,1442.7 540.3,1441.6 546.1,1421.3 552.2,1436.6 558.3,1442.7 564.0,1427.4 570.5,1442.7 576.6,1445.8 582.7,1447.8 588.8,1448.8 595.0,1448.8 603.1,1447.8 610.2,1451.9 616.3,1430.5 622.4,1448.8 628.5,1449.8 634.6,1445.8 640.8,1446.8 645.8,1466.1 651.5,1467.1 657.6,1451.9 663.1,1466.1 669.2,1444.7 675.4,1466.1 681.5,1461.0 686.5,1441.7" fill="none" stroke="#1d2485" stroke-width="1.8" stroke-linejoin="round" stroke-linecap="round"/>
<polyline points="3.0,1324.6 7.7,1322.6 14.2,1360.2 20.3,1319.5 26.5,1356.2 31.5,1376.5 37.6,1447.7 48.8,1453.8 54.9,1453.8 67.2,1456.9 72.2,1411.1 78.3,1443.7 85.5,1405.0 90.6,1407.0 95.6,1401.0 102.8,1451.8 108.9,1409.1 114.0,1413.1 120.1,1451.8 126.2,1453.8 134.3,1455.9 138.0,1470.0 143.1,1494.6 149.2,1445.7 154.3,1415.2 165.5,1415.2 177.7,1418.2 183.8,1416.2 196.0,1411.1 202.2,1407.0 207.2,1408.1 213.3,1451.8 218.4,1411.1 224.5,1454.9 234.7,1458.9 242.9,1449.8 253.0,1450.8 260.2,1413.1 265.2,1429.4 270.0,1433.5 277.1,1433.5 283.2,1437.6 289.3,1432.5 295.4,1458.9 305.6,1458.9 312.7,1456.9 317.8,1461.0 324.9,1458.9 329.6,1415.2 335.1,1455.9 347.3,1453.8 355.5,1456.9 365.6,1458.9 376.8,1463.0 382.9,1449.8 389.0,1488.4 395.2,1445.7 401.3,1439.6 405.0,1438.6 411.1,1449.8 417.2,1445.7 422.3,1447.7 428.4,1451.8 434.5,1451.8 440.6,1451.8 446.7,1454.9 452.8,1449.8 458.9,1449.8 464.0,1443.7 470.1,1443.7 476.2,1404.0 482.3,1448.8 488.4,1451.8 493.5,1458.9 499.6,1449.8 505.7,1479.3 511.8,1439.6 516.9,1396.9 523.0,1429.4 529.1,1408.1 534.2,1409.1 540.3,1447.7 546.1,1445.8 552.2,1443.7 558.3,1483.4 564.4,1441.7 570.5,1443.7 576.6,1446.8 581.7,1450.8 586.8,1413.2 592.9,1454.9 599.0,1453.9 605.1,1450.8 610.2,1452.9 616.3,1443.7 622.4,1444.7 627.5,1447.8 633.6,1441.7 639.7,1439.6 645.8,1487.5 651.9,1489.5 657.0,1460.0 663.1,1494.6 669.2,1455.9 675.4,1445.8 681.5,1431.5 685.5,1432.5" fill="none" stroke="#c62bbb" stroke-width="1.7" stroke-linejoin="round" stroke-linecap="round"/>
</g>
<line x1="0" y1="465.2" x2="800" y2="465.2" stroke="#cfcfcf" stroke-width="2"/>
<line x1="1" y1="465" x2="1" y2="1198" stroke="#c8c8cc" stroke-width="2"/>
<line x1="689.5" y1="466" x2="689.5" y2="1171" stroke="#dcdcdc" stroke-width="1.5"/>
<line x1="689.5" y1="1198" x2="689.5" y2="1552" stroke="#dcdcdc" stroke-width="1.5"/>
<line x1="0" y1="1552" x2="800" y2="1552" stroke="#dcdcdc" stroke-width="1.2"/>
<rect x="0" y="1171" width="800" height="28" fill="#eceef2"/>
<line x1="799" y1="465" x2="799" y2="1552" stroke="#c4c4c6" stroke-width="2"/>
<text x="11.5" y="1191.5" font-size="15.5" fill="#555" textLength="145" lengthAdjust="spacingAndGlyphs" font-family="Liberation Sans, Noto Sans CJK KR, sans-serif">11일 16:31:00 (KST)</text>
<text x="365.7" y="1191" font-size="15" fill="#555" textLength="137.5" lengthAdjust="spacingAndGlyphs" font-family="Liberation Sans, Noto Sans CJK KR, sans-serif">11일 16:32:00 (KST)</text>
<polygon points="737.5,1184.3 752.5,1184.3 745,1176.5" fill="#868a94"/><polygon points="737.5,1186 752.5,1186 745,1193.3" fill="#868a94"/>
<text x="696.5" y="486.8" font-size="18.5" fill="#333" font-family="Liberation Sans, sans-serif" letter-spacing="0.6">99,999,000</text>
<text x="696.5" y="642.8" font-size="18.5" fill="#333" font-family="Liberation Sans, sans-serif" letter-spacing="0.6">99,725,000</text>
<text x="696.5" y="812.8" font-size="18.5" fill="#333" font-family="Liberation Sans, sans-serif" letter-spacing="0.6">99,450,000</text>
<text x="696.5" y="982.8" font-size="18.5" fill="#333" font-family="Liberation Sans, sans-serif" letter-spacing="0.6">99,175,000</text>
<text x="696.5" y="1163.8" font-size="18.5" fill="#333" font-family="Liberation Sans, sans-serif" letter-spacing="0.6">98,862,883</text>
<rect x="694" y="514" width="106" height="27.5" fill="#d1573f"/>
<text x="696.5" y="534.2" font-size="18.5" fill="#fff" font-family="Liberation Sans, sans-serif" letter-spacing="0.6">99,900,000</text>
<text x="695.5" y="1294.0" font-size="17" fill="#333" textLength="54" lengthAdjust="spacingAndGlyphs" font-family="Liberation Sans, sans-serif">12.411</text>
<text x="695.5" y="1382.0" font-size="17" fill="#333" textLength="48" lengthAdjust="spacingAndGlyphs" font-family="Liberation Sans, sans-serif">8.274</text>
<text x="695.5" y="1470.0" font-size="17" fill="#333" textLength="47" lengthAdjust="spacingAndGlyphs" font-family="Liberation Sans, sans-serif">4.137</text>
<rect x="694" y="1326.5" width="106" height="26.5" fill="#d1573f"/>
<text x="696" y="1346" font-size="17" fill="#fff" textLength="51" lengthAdjust="spacingAndGlyphs" font-family="Liberation Sans, sans-serif">9.933</text>
<text x="6.5" y="486" font-size="18.5" fill="#444" textLength="65" lengthAdjust="spacingAndGlyphs" font-family="Liberation Sans, Noto Sans CJK KR, sans-serif">단순 MA</text>
<rect x="78.6" y="471" width="9.8" height="17.5" fill="#ee1111"/>
<text x="95.6" y="486" font-size="18.5" fill="#444" font-family="Liberation Sans, Noto Sans CJK KR, sans-serif">5</text>
<rect x="113.0" y="471" width="9.8" height="17.5" fill="#ee22ee"/>
<text x="130.0" y="486" font-size="18.5" fill="#444" font-family="Liberation Sans, Noto Sans CJK KR, sans-serif">10</text>
<rect x="157.0" y="471" width="9.8" height="17.5" fill="#f08040"/>
<text x="174.0" y="486" font-size="18.5" fill="#444" font-family="Liberation Sans, Noto Sans CJK KR, sans-serif">20</text>
<rect x="201.0" y="471" width="9.8" height="17.5" fill="#333333"/>
<text x="218.0" y="486" font-size="18.5" fill="#444" font-family="Liberation Sans, Noto Sans CJK KR, sans-serif">60</text>
<rect x="246.0" y="471" width="9.8" height="17.5" fill="#aaaaaa"/>
<text x="263.0" y="486" font-size="18.5" fill="#444" font-family="Liberation Sans, Noto Sans CJK KR, sans-serif">120</text>
<text x="6" y="1219" font-size="18.5" fill="#444" textLength="118" lengthAdjust="spacingAndGlyphs" font-family="Liberation Sans, Noto Sans CJK KR, sans-serif">거래량 단순 MA</text>
<rect x="132.5" y="1204" width="9.5" height="17" fill="#d61cb8"/>
<text x="149.5" y="1219" font-size="18.5" fill="#444" font-family="Liberation Sans, Noto Sans CJK KR, sans-serif">5</text>
<rect x="167.0" y="1204" width="9.5" height="17" fill="#1c2a9e"/>
<text x="184.0" y="1219" font-size="18.5" fill="#444" font-family="Liberation Sans, Noto Sans CJK KR, sans-serif">10</text>
<rect x="211.0" y="1204" width="9.5" height="17" fill="#f0a020"/>
<text x="228.0" y="1219" font-size="18.5" fill="#444" font-family="Liberation Sans, Noto Sans CJK KR, sans-serif">20</text>
<rect x="257.5" y="1593.5" width="285.5" height="11" rx="5.5" fill="#808080"/>
<rect x="0" y="1619.5" width="800" height="1.5" fill="#333"/>
</svg>
</body></html>
